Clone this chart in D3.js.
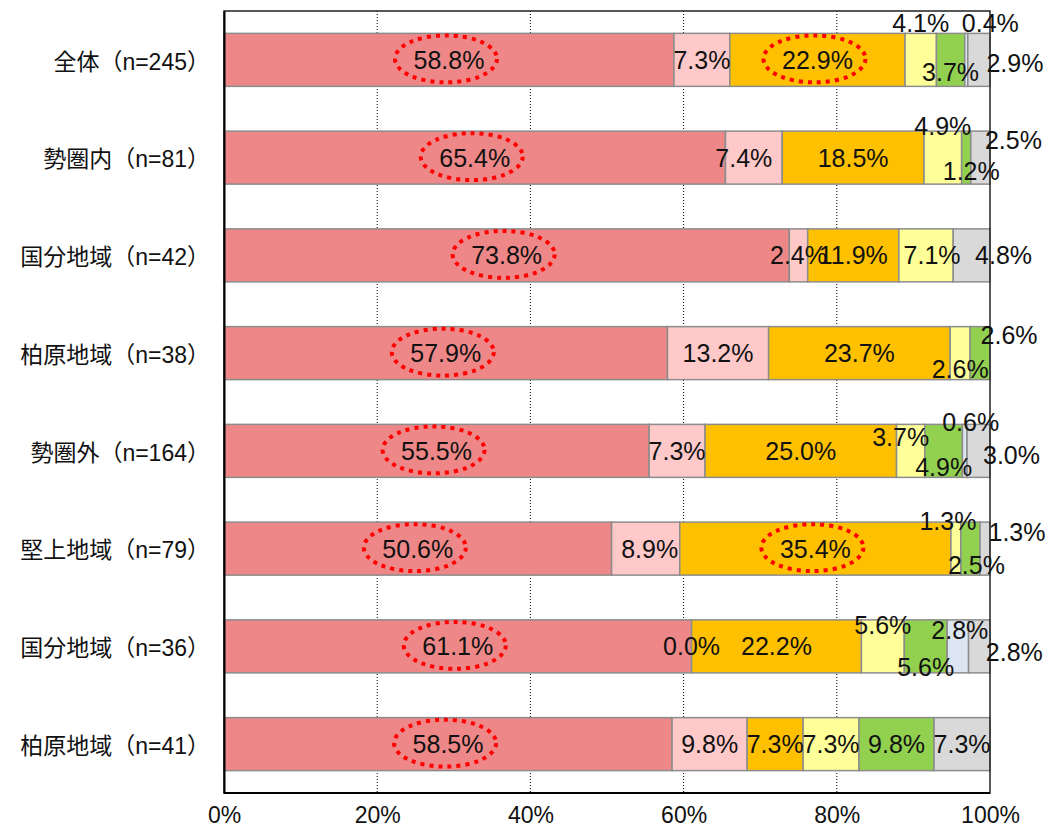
<!DOCTYPE html>
<html><head><meta charset="utf-8">
<script src="https://cdn.jsdelivr.net/npm/d3@7"></script>
<style>
body{margin:0;background:#fff;}
svg{display:block;}
</style></head>
<body>
<svg id="chart" width="1045" height="830"></svg>
<script>
// ---- data ----
const categories = ["全体（n=245）","勢圏内（n=81）","国分地域（n=42）","柏原地域（n=38）","勢圏外（n=164）","堅上地域（n=79）","国分地域（n=36）","柏原地域（n=41）"];
const seriesKeys = ["s1","s2","s3","s4","s5","s6","s7"];
const s1 = [58.8,65.4,73.8,57.9,55.5,50.6,61.1,58.5];
const s2 = [7.3,7.4,2.4,13.2,7.3,8.9,0.0,9.8];
const s3 = [22.9,18.5,11.9,23.7,25.0,35.4,22.2,7.3];
const s4 = [4.1,4.9,7.1,2.6,3.7,1.3,5.6,7.3];
const s5 = [3.7,1.2,null,2.6,4.9,2.5,5.6,9.8];
const s6 = [0.4,null,null,null,0.6,null,2.8,null];
const s7 = [2.9,2.5,4.8,null,3.0,1.3,2.8,7.3];
const xTicks = [0,20,40,60,80,100];
// highlighted (dotted red ellipse) labels: [seriesIndex,rowIndex]
const highlights = [[0,0],[0,1],[0,2],[0,3],[0,4],[0,5],[0,6],[0,7],[2,0],[2,5]];

// ---- styles / label placement ----
const colors = ["#EE8888","#FFC9C9","#FFC000","#FFFF99","#92D050","#DCE6F2","#D9D9D9"];
const labelOffsets = {
  s1:[[0,0],[0,0],[0,0],[0,0],[0,0],[0,0],[0,0],[0,0]],
  s2:[[0,0],[-10,0],[0,0],[0,0],[0,0],[4,0],[0,0],[0,0]],
  s3:[[0,0],[0,0],[0,0],[0,0],[0,0],[0,0],[0,0],[0,0]],
  s4:[[0,-37],[0,-32],[6,0],[0,16],[-10,-14],[-8,-28],[0,-21],[0,0]],
  s5:[[0,12],[5,13],[0,0],[29,-18],[0,16],[6,16],[0,21],[0,0]],
  s6:[[24,-37],[0,0],[0,0],[0,0],[6,-29],[0,0],[2,-16],[0,0]],
  s7:[[36,3],[33,-18],[32,0],[0,0],[33,4],[32,-17],[35,6],[0,0]]
};

const seriesVals = [s1,s2,s3,s4,s5,s6,s7];
const rows = categories.map((c,i)=>{
  const o = {cat:c};
  seriesKeys.forEach((k,j)=>{o[k]=seriesVals[j][i];});
  const tot = d3.sum(seriesKeys, k=>o[k]||0);
  o.total = tot;
  return o;
});

const svg = d3.select("#chart");
const x = d3.scaleLinear().domain([0,100]).range([224,990]);
const y = d3.scaleBand().domain(categories).range([11,793]).paddingInner(0.458).paddingOuter(0.229);

// gridlines
svg.append("g").selectAll("line").data(xTicks.filter(t=>t>0&&t<100)).join("line")
  .attr("x1",d=>x(d)).attr("x2",d=>x(d)).attr("y1",11).attr("y2",793)
  .attr("stroke","#000").attr("stroke-width",1).attr("stroke-dasharray","1,2");

// stacked (normalized to 100%)
const stackData = rows.map(r=>{
  const o={cat:r.cat};
  seriesKeys.forEach(k=>{o[k]=(r[k]||0)/r.total*100;});
  return o;
});
const stack = d3.stack().keys(seriesKeys)(stackData);

const gBars = svg.append("g");
stack.forEach((layer,j)=>{
  gBars.append("g").selectAll("rect").data(layer.filter((d,i)=>seriesVals[j][i]!=null && seriesVals[j][i]>0)).join("rect")
    .attr("x",d=>x(d[0])).attr("width",d=>x(d[1])-x(d[0]))
    .attr("y",d=>y(d.data.cat)).attr("height",y.bandwidth())
    .attr("fill",colors[j]).attr("stroke","#8c8c8c").attr("stroke-width",1.5);
});

// frame
svg.append("rect").attr("x",224).attr("y",11).attr("width",766).attr("height",782)
  .attr("fill","none").attr("stroke","#222").attr("stroke-width",1.5);

// labels
const gLab = svg.append("g");
const labelPos = [];
stack.forEach((layer,j)=>{
  const k = seriesKeys[j];
  layer.forEach((d,i)=>{
    const v = seriesVals[j][i];
    if(v==null) return;
    const off = labelOffsets[k][i];
    const cx = (x(d[0])+x(d[1]))/2 + off[0];
    const cy = y(d.data.cat)+y.bandwidth()/2 + off[1];
    labelPos.push({j,i,cx,cy});
    gLab.append("text").attr("x",cx).attr("y",cy).attr("dy","0.36em")
      .attr("text-anchor","middle")
      .attr("font-family","'Liberation Sans', Arial, sans-serif").attr("font-size",25)
      .attr("fill","#111").text(v.toFixed(1)+"%");
  });
});

// highlight ellipses
svg.append("g").selectAll("ellipse").data(highlights.map(h=>labelPos.find(p=>p.j===h[0]&&p.i===h[1]))).join("ellipse")
  .attr("cx",d=>d.cx-3).attr("cy",d=>d.cy-1).attr("rx",51).attr("ry",23.5)
  .attr("fill","none").attr("stroke","#FF0000").attr("stroke-width",4).attr("stroke-dasharray","4,5");

// axes
const xAxis = svg.append("g").attr("transform","translate(0,793)")
  .call(d3.axisBottom(x).tickValues(xTicks).tickSize(0).tickPadding(14).tickFormat(d=>d+"%"));
xAxis.select(".domain").remove();
xAxis.selectAll("text").attr("font-family","'Liberation Sans', Arial, sans-serif").attr("font-size",23).attr("fill","#111");

const yAxis = svg.append("g").attr("transform","translate(224,0)")
  .call(d3.axisLeft(y).tickSize(0).tickPadding(14));
yAxis.select(".domain").attr("stroke","#000").attr("stroke-width",2);
yAxis.selectAll("text").attr("font-family","'Liberation Sans','Noto Sans CJK JP', sans-serif").attr("font-size",23).attr("dy","0.42em").attr("fill","#111");

// bottom axis line
svg.append("line").attr("x1",224).attr("x2",990).attr("y1",793).attr("y2",793).attr("stroke","#000").attr("stroke-width",2);
</script>
</body></html>
